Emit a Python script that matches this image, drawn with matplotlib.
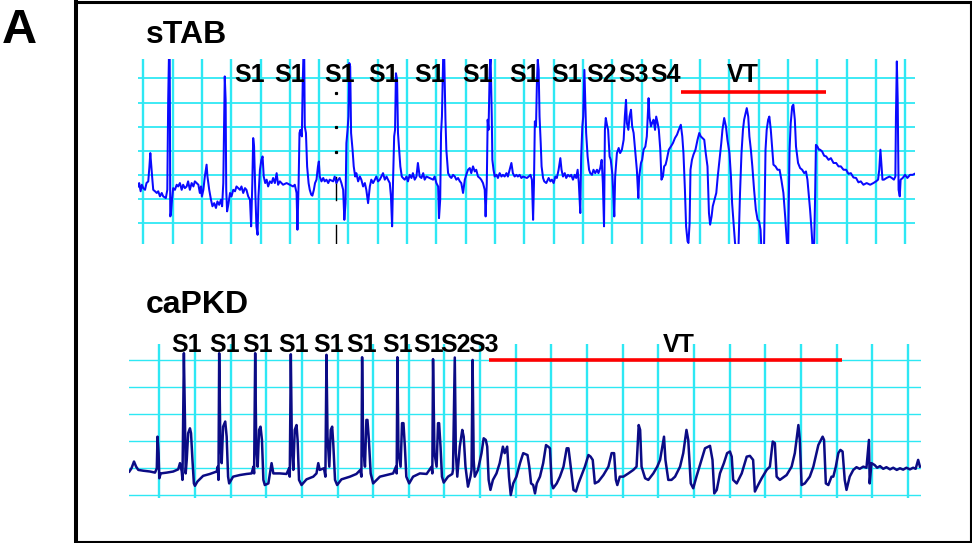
import matplotlib
matplotlib.use("Agg")
import matplotlib.pyplot as plt
from matplotlib.lines import Line2D

plt.rcParams["font.family"] = ["Liberation Sans", "DejaVu Sans"]

# ---------------- data (time in ms, amplitude in mV) ----------------
STAB_TRACE = [
    (-17, -0.47), (-14, -0.33), (-9, -0.67), (-5, -0.40), (0, -0.54), (6, -0.61), (11, -0.33), (17, -0.26),
    (21, 0.36), (24, 0.91), (27, 0.43), (31, -0.19), (34, -0.61), (40, -0.67), (46, -0.74), (51, -0.67),
    (57, -0.88), (63, -0.74), (68, -0.88), (77, -0.95), (82, -0.61), (85, 3.11), (88, 5.2), (90, 5.2),
    (91, 2.42), (92, -1.71), (94, -1.64), (98, -1.02), (102, -0.54), (108, -0.61), (114, -0.40), (119, -0.47),
    (125, -0.33), (131, -0.61), (136, -0.40), (142, -0.54), (148, -0.47), (153, -0.26), (159, -0.61), (165, -0.33),
    (171, -0.47), (176, -0.26), (182, -0.33), (188, -0.40), (193, -0.74), (197, -0.47), (200, -0.88), (205, -0.61),
    (210, -0.06), (216, 0.43), (219, -0.06), (225, -0.61), (231, -1.02), (236, -1.29), (242, -1.16), (248, -1.36),
    (253, -1.09), (259, -1.23), (265, -1.02), (269, -1.29), (273, -0.33), (276, 2.42), (278, 4.08), (281, 3.11),
    (283, -0.61), (286, -1.50), (291, -1.16), (296, -0.74), (301, -0.88), (307, -0.61), (313, -0.67), (318, -0.47),
    (324, -0.54), (330, -0.61), (335, -0.47), (341, -0.74), (347, -0.54), (352, -0.61), (358, -0.88), (364, -1.02),
    (368, -2.12), (372, -0.33), (375, 1.53), (378, 1.18), (382, -0.61), (386, -2.12), (390, -2.47), (393, -0.88),
    (398, 0.22), (403, 0.63), (407, 0.77), (411, -0.06), (416, -0.33), (421, -0.19), (426, -0.47), (432, -0.26),
    (438, -0.33), (443, -0.12), (449, -0.33), (455, 0.08), (460, -0.40), (466, -0.26), (477, -0.40), (489, -0.33),
    (500, -0.40), (511, -0.47), (517, -0.40), (523, -0.74), (526, -2.26), (530, -0.33), (533, 1.74), (536, 1.87),
    (541, 1.60), (544, 3.80), (547, 5.2), (549, 5.2), (551, 2.01), (555, 1.74), (559, 0.36), (564, -0.33),
    (568, -0.61), (573, -0.81), (577, -0.85), (582, -0.61), (586, -0.33), (591, -0.19), (596, 0.36), (599, 0.56),
    (602, -0.06), (608, -0.26), (614, -0.12), (619, -0.26), (625, -0.19), (631, -0.33), (636, -0.19), (648, -0.26),
    (653, -0.06), (659, -0.33), (665, -0.19), (670, -0.12), (676, -0.33), (682, -0.61), (686, -1.85), (690, -1.16),
    (693, 1.32), (697, 1.87), (700, 2.42), (703, 4.63), (706, 4.49), (709, 1.74), (714, 1.05), (718, 0.36),
    (723, -0.06), (727, 0.08), (733, -0.26), (739, -0.06), (744, -0.19), (750, -0.47), (756, -0.33), (761, -0.61),
    (767, -1.16), (773, -0.47), (778, -0.19), (784, -0.33), (790, -0.19), (795, -0.06), (801, -0.26), (807, -0.19),
    (818, 0.08), (824, -0.19), (830, -0.06), (835, -0.19), (841, -0.33), (845, -0.88), (849, -2.12), (852, -0.33),
    (856, 1.60), (859, 1.87), (862, 4.21), (866, 3.94), (869, 1.74), (873, 1.05), (877, 0.36), (882, -0.06),
    (886, -0.12), (892, -0.19), (898, -0.06), (903, -0.26), (909, 0.01), (915, -0.12), (920, 0.08), (926, -0.19),
    (932, -0.06), (937, 0.50), (943, -0.06), (949, -0.12), (955, 0.08), (960, -0.19), (966, -0.06), (977, -0.12),
    (989, -0.19), (994, -0.06), (1000, -0.33), (1006, -0.47), (1009, -1.78), (1013, -1.02), (1016, 1.74), (1019, 2.42),
    (1023, 4.77), (1025, 5.2), (1027, 4.77), (1031, 2.29), (1034, 1.05), (1040, 0.08), (1046, -0.06), (1051, -0.12),
    (1057, 0.01), (1063, -0.06), (1068, -0.19), (1074, -0.12), (1080, -0.26), (1085, -0.33), (1091, -0.74), (1097, -0.19),
    (1102, 0.01), (1108, 0.22), (1114, 0.29), (1119, 0.08), (1125, 0.36), (1131, 0.15), (1136, 0.22), (1142, -0.06),
    (1148, -0.12), (1153, -0.19), (1159, -0.33), (1165, -0.61), (1168, -1.71), (1172, -0.33), (1175, 2.29), (1178, 1.87),
    (1182, 4.35), (1185, 4.90), (1189, 2.42), (1191, 0.63), (1195, 0.22), (1199, -0.06), (1205, 0.01), (1210, -0.12),
    (1216, 0.08), (1222, -0.06), (1227, 0.01), (1233, -0.06), (1239, 0.08), (1244, -0.06), (1250, 0.22), (1256, 0.50),
    (1261, 0.08), (1267, -0.06), (1273, 0.01), (1278, -0.06), (1284, 0.01), (1290, -0.12), (1296, -0.06),
    (1309, -0.12), (1315, -0.06), (1321, 0.01), (1326, -0.19), (1330, -1.85), (1333, -0.33), (1336, 2.22), (1340, 2.01),
    (1343, 3.80), (1346, 4.77), (1349, 4.35), (1352, 2.42), (1356, 1.32), (1359, 0.36), (1364, -0.12), (1368, -0.26),
    (1375, -0.33), (1383, -0.12), (1389, -0.26), (1394, -0.19), (1400, -0.33), (1406, -0.06), (1411, -0.12), (1417, 0.22),
    (1423, 0.70), (1427, 0.22), (1432, -0.06), (1438, 0.08), (1443, -0.12), (1449, 0.01), (1455, -0.06), (1460, 0.01),
    (1466, -0.19), (1472, 0.01), (1477, -0.12), (1482, 0.22), (1486, -0.33), (1491, -1.57), (1494, 0.77), (1498, 2.01),
    (1501, 2.42), (1505, 4.35), (1508, 3.11), (1511, 1.74), (1516, 0.77), (1521, 0.22), (1525, 0.08), (1531, 0.01),
    (1536, 0.22), (1542, 0.08), (1548, 0.22), (1553, 0.08), (1559, 0.29), (1564, 0.63), (1568, -0.33), (1572, -2.12),
    (1575, 1.87), (1578, 2.36), (1582, 2.08), (1586, 1.87), (1591, 0.77), (1595, 0.63), (1600, 0.08), (1603, -0.61),
    (1607, -1.71), (1610, -0.06), (1616, 0.91), (1622, 1.12), (1627, 0.91), (1633, 1.05), (1639, 1.46), (1643, 2.42),
    (1647, 3.11), (1650, 2.15), (1655, 1.87), (1659, 2.42), (1664, 2.70), (1668, 2.01), (1673, 1.74), (1678, 1.05),
    (1684, 0.22), (1689, -0.95), (1692, -0.06), (1698, 0.50), (1702, 0.63), (1707, 1.05), (1713, 1.18), (1718, 1.60),
    (1724, 3.18), (1727, 2.42), (1732, 2.01), (1736, 2.15), (1741, 2.29), (1746, 1.87), (1750, 2.42), (1755, 2.15),
    (1759, 1.87), (1764, 1.05), (1768, -0.19), (1773, -0.06), (1777, 0.36), (1782, 0.43), (1786, 0.63), (1793, 1.05),
    (1800, 1.18), (1807, 1.32), (1814, 1.53), (1821, 1.67), (1827, 1.87), (1834, 2.08), (1839, 1.60), (1843, 0.91),
    (1848, -0.61), (1852, -2.12), (1857, -2.74), (1860, -2.81), (1864, -1.98), (1867, 0.22), (1872, 0.63), (1877, 0.84),
    (1884, 1.05), (1891, 1.46), (1897, 1.74), (1902, 1.60), (1908, 1.53), (1914, 1.46), (1919, 0.91), (1925, 0.36),
    (1930, -1.57), (1934, -2.05), (1939, -1.71), (1943, -1.29), (1949, -1.02), (1955, -0.74), (1960, -0.06), (1966, 0.63),
    (1972, 1.32), (1976, 1.87), (1982, 2.36), (1988, 2.01), (1993, 1.46), (2000, 0.91), (2005, -0.06), (2009, -1.16),
    (2014, -1.98), (2019, -2.81), (2025, -3.09), (2031, -2.88), (2036, -0.74), (2041, 0.91), (2046, 1.87), (2050, 2.29),
    (2055, 2.56), (2059, 2.77), (2064, 2.42), (2068, 1.60), (2073, 1.05), (2078, 0.36), (2084, -0.61), (2090, -1.43),
    (2096, -1.85), (2101, -1.91), (2106, -2.26), (2109, -3.09), (2114, -3.09), (2118, -2.95), (2123, 1.05), (2127, 1.87),
    (2132, 2.29), (2136, 2.42), (2141, 1.87), (2146, 1.05), (2150, 0.43), (2157, 0.36), (2164, 0.22), (2171, 0.22),
    (2177, -0.19), (2184, -0.74), (2190, -1.71), (2196, -2.81), (2200, -3.09), (2205, 1.05), (2209, 2.15), (2214, 2.84),
    (2218, 2.91), (2223, 2.29), (2227, 1.18), (2234, 0.50), (2241, 0.29), (2248, 0.22), (2255, 0.08), (2261, 0.15),
    (2266, -0.19), (2271, -0.88), (2275, -1.43), (2280, -2.26), (2284, -3.09), (2289, -2.81), (2292, -1.02), (2295, 1.25),
    (2300, 1.18), (2305, 1.05), (2309, 1.05), (2316, 0.98), (2323, 0.80), (2330, 0.77), (2338, 0.63), (2346, 0.70),
    (2355, 0.50), (2364, 0.50), (2372, 0.36), (2380, 0.36), (2389, 0.22), (2398, 0.22), (2406, 0.05), (2414, 0.08),
    (2423, -0.10), (2432, -0.12), (2440, -0.30), (2448, -0.26), (2457, -0.40), (2468, -0.33), (2480, -0.40), (2491, -0.33),
    (2500, -0.26), (2507, -0.19), (2511, 0.22), (2515, 1.05), (2518, 0.50), (2522, -0.19), (2527, -0.19), (2536, -0.12),
    (2546, -0.06), (2554, -0.12), (2561, -0.19), (2566, -0.06), (2568, 2.42), (2571, 4.70), (2574, 3.11), (2577, -0.61),
    (2581, -0.88), (2584, -0.19), (2591, -0.12), (2599, 0.01), (2607, -0.12), (2616, 0.01), (2625, 0.01), (2633, 0.06),
]

CAPKD_TRACE = [
    (-84, -0.12), (-78, 0.00), (-71, 0.25), (-65, 0.06), (-59, -0.06), (-45, -0.09), (-26, -0.12), (-12, -0.16),
    (-7, 0.00), (-5, 1.17), (-2, 0.56), (0, -0.37), (4, -0.19), (21, -0.16), (39, -0.12), (53, -0.04),
    (58, 0.19), (63, -0.12), (65, -0.43), (67, 1.79), (69, 4.26), (72, 1.79), (74, -0.19), (77, 0.31),
    (81, 1.30), (86, 1.48), (89, 1.30), (93, 0.31), (97, -0.56), (100, -0.65), (107, -0.49), (123, -0.28),
    (142, -0.21), (161, -0.12), (164, 0.06), (166, -0.43), (168, 4.26), (171, 1.17), (175, 0.19), (179, 1.54),
    (185, 1.73), (189, 1.17), (193, -0.31), (196, -0.56), (207, -0.31), (226, -0.25), (245, -0.21), (259, -0.19),
    (264, 0.06), (266, -0.19), (269, 4.26), (272, 0.80), (276, 0.06), (280, 1.42), (284, 1.54), (288, 1.05),
    (292, -0.43), (296, -0.62), (306, -0.56), (315, 0.19), (320, -0.19), (338, -0.19), (357, -0.21), (364, 0.00),
    (366, -0.31), (369, 4.22), (372, 0.80), (376, -0.06), (380, 1.42), (385, 1.60), (388, 1.05), (392, -0.43),
    (399, -0.62), (413, -0.41), (432, -0.31), (441, -0.19), (446, 0.19), (450, -0.06), (462, 0.00), (466, -0.31),
    (469, 4.20), (472, 1.17), (477, 0.06), (481, 1.42), (485, 1.54), (488, 0.93), (493, -0.43), (499, -0.62),
    (511, -0.41), (535, -0.31), (553, -0.21), (564, -0.06), (567, -0.31), (569, 4.11), (572, 0.80), (577, 0.06),
    (581, 1.79), (584, 1.79), (588, 1.05), (593, -0.19), (600, -0.56), (619, -0.31), (637, -0.25), (656, -0.19),
    (664, 0.06), (666, -0.19), (668, 4.11), (671, 0.56), (677, 0.06), (681, 1.67), (685, 1.67), (689, 0.80),
    (693, -0.31), (701, -0.56), (712, -0.31), (731, -0.19), (750, -0.21), (764, 0.06), (766, -0.19), (768, 4.04),
    (772, 0.56), (778, 0.06), (782, 1.67), (785, 1.67), (789, 0.80), (793, -0.31), (798, -0.53), (810, -0.31),
    (822, -0.21), (824, -0.06), (829, 4.10), (832, 0.56), (836, -0.31), (843, 0.80), (850, 1.42), (854, 1.17),
    (859, 0.06), (866, -0.68), (873, -0.31), (876, -0.06), (879, 4.01), (882, 0.31), (885, -0.31), (894, -0.06),
    (904, 0.56), (910, 1.11), (916, 1.05), (920, 0.80), (924, -0.43), (929, -0.80), (936, -0.43), (946, -0.19),
    (955, 0.19), (964, 0.80), (969, 0.56), (976, 0.80), (981, -0.31), (986, -0.99), (993, -0.56), (1002, -0.31),
    (1012, 0.19), (1021, 0.56), (1033, 0.49), (1038, 0.06), (1043, -0.56), (1049, -0.62), (1054, -0.93), (1059, -0.56),
    (1068, -0.31), (1077, 0.19), (1085, 0.86), (1091, 0.80), (1096, 0.74), (1101, -0.56), (1105, -0.74), (1115, -0.56),
    (1124, -0.31), (1134, 0.06), (1143, 0.74), (1148, 0.74), (1152, 0.31), (1162, -0.80), (1169, -0.86), (1176, -0.56),
    (1185, -0.25), (1194, 0.06), (1204, 0.49), (1210, 0.43), (1216, 0.31), (1222, -0.56), (1232, -0.49), (1246, -0.25),
    (1260, 0.06), (1269, 0.56), (1276, 0.56), (1281, -0.43), (1285, -0.62), (1292, -0.31), (1302, -0.31), (1316, -0.19),
    (1330, -0.06), (1339, 0.06), (1345, 1.60), (1349, 1.42), (1353, 0.06), (1363, -0.37), (1372, -0.43), (1386, -0.19),
    (1397, 0.06), (1405, 0.31), (1416, 1.17), (1420, 0.31), (1428, -0.43), (1437, -0.43), (1447, -0.31), (1461, 0.06),
    (1470, 0.56), (1479, 1.42), (1484, 1.05), (1491, -0.56), (1498, -0.74), (1507, -0.31), (1521, 0.31), (1531, 0.74),
    (1545, 0.83), (1552, 0.31), (1557, -0.93), (1564, -0.80), (1573, -0.19), (1584, 0.19), (1593, 0.56), (1601, 0.62),
    (1606, 0.43), (1610, -0.43), (1620, -0.56), (1634, -0.19), (1648, 0.43), (1657, 0.46), (1666, 0.31), (1671, -0.86),
    (1680, -0.62), (1690, -0.37), (1704, -0.06), (1713, 0.06), (1721, 0.99), (1727, 0.93), (1732, -0.31), (1741, -0.43),
    (1760, -0.25), (1774, 0.06), (1783, 0.56), (1793, 1.60), (1797, 1.05), (1802, -0.62), (1811, -0.56), (1825, -0.31),
    (1835, 0.06), (1849, 0.86), (1861, 1.17), (1865, 1.05), (1870, -0.56), (1877, -0.62), (1886, -0.31), (1891, -0.31),
    (1898, 0.06), (1905, 0.56), (1911, 0.68), (1917, 0.62), (1923, -0.43), (1928, -0.80), (1937, -0.31), (1947, -0.06),
    (1956, 0.04), (1965, -0.02), (1975, 0.06), (1984, 0.02), (1991, 1.05), (1993, -0.56), (1998, 0.19), (2007, 0.12),
    (2014, 0.02), (2022, 0.08), (2031, -0.02), (2040, 0.04), (2050, -0.04), (2059, 0.02), (2069, -0.06), (2078, 0.00),
    (2087, -0.05), (2096, 0.02), (2106, -0.04), (2115, 0.02), (2122, -0.02), (2129, 0.31), (2134, 0.06),
]

STAB_STIM_LABELS = ["S1", "S1", "S1", "S1", "S1", "S1", "S1", "S1", "S2", "S3", "S4"]
STAB_STIM_MS = [364, 498, 671, 821, 978, 1140, 1302, 1445, 1564, 1673, 1783]
STAB_VT_MS = [1835, 2329]
STAB_MARKER_MS = 656

CAPKD_STIM_LABELS = ["S1", "S1", "S1", "S1", "S1", "S1", "S1", "S1", "S2", "S3"]
CAPKD_STIM_MS = [77, 184, 276, 377, 475, 569, 670, 755, 832, 911]
CAPKD_VT_MS = [925, 1914]

PANEL_TITLES = ["sTAB", "caPKD"]
FIG_LABEL = "A"

# ---------------- layout ----------------
W, H = 972, 543
fig = plt.figure(figsize=(W / 100, H / 100), dpi=100)
fig.patch.set_facecolor("white")


def px_axes(left, top, right, bottom):
    return fig.add_axes([left / W, 1 - bottom / H, (right - left) / W, (bottom - top) / H])


GRID = "#2ee8f4"
BOLD = dict(fontweight="bold", color="black")


def setup(ax, xlim, ylim, xgrid_max, yrange, lw_v, lw_h):
    ax.set_xlim(*xlim)
    ax.set_ylim(*ylim)
    ax.set_axis_off()
    for t in range(0, xgrid_max + 1, 100):
        ax.axvline(t, color=GRID, lw=lw_v, zorder=1)
    for v in yrange:
        ax.axhline(v, color=GRID, lw=lw_h, zorder=1)


# top panel: sTAB
ax1 = px_axes(138, 59, 915, 244)
setup(ax1, (-18, 2633), (-2.85, 4.80), 2600, range(-2, 5), 1.7, 1.3)
t1, v1 = zip(*STAB_TRACE)
ax1.plot(t1, v1, color="#0a0aff", lw=1.45, zorder=3)
ax1.plot([STAB_MARKER_MS] * 2, [-0.08, -1.03], color="black", lw=1.0, zorder=2)
ax1.plot([STAB_MARKER_MS] * 2, [-2.06, -2.85], color="black", lw=1.0, zorder=2)
ax1.plot([STAB_MARKER_MS] * 3, [3.39, 1.99, 0.95], ls="none", marker="s", ms=1.3,
         color="black", zorder=2)
for lab, t in zip(STAB_STIM_LABELS, STAB_STIM_MS):
    ax1.text(t, 3.86, lab, ha="center", va="baseline", fontsize=18, clip_on=False, zorder=5, **BOLD)
ax1.plot(STAB_VT_MS, [3.45, 3.45], color="#ff0000", lw=2.6, solid_capstyle="butt", zorder=4)
ax1.text(sum(STAB_VT_MS) / 2 - 37, 3.86, "VT", ha="center", va="baseline", fontsize=18,
         clip_on=False, zorder=5, **BOLD)

# bottom panel: caPKD
ax2 = px_axes(129, 344, 921, 498)
setup(ax2, (-85, 2137), (-1.10, 4.60), 2100, range(-1, 5), 1.7, 1.0)
t2, v2 = zip(*CAPKD_TRACE)
ax2.plot(t2, v2, color="#0b0b85", lw=1.8, zorder=3)
for lab, t in zip(CAPKD_STIM_LABELS, CAPKD_STIM_MS):
    ax2.text(t, 4.31, lab, ha="center", va="baseline", fontsize=18, clip_on=False, zorder=5, **BOLD)
ax2.plot(CAPKD_VT_MS, [3.99, 3.99], color="#ff0000", lw=2.6, solid_capstyle="butt", zorder=4)
ax2.text(1456, 4.31, "VT", ha="center", va="baseline", fontsize=18, clip_on=False, zorder=5, **BOLD)

# titles and panel letter
fig.text(146 / W, 1 - 43 / H, PANEL_TITLES[0], ha="left", va="baseline", fontsize=23, **BOLD)
fig.text(146 / W, 1 - 313 / H, PANEL_TITLES[1], ha="left", va="baseline", fontsize=23, **BOLD)
fig.text(19 / W, 1 - 43 / H, FIG_LABEL, ha="center", va="baseline", fontsize=35, **BOLD)

# frame around the panel
def fig_line(x0, y0, x1, y1, lw):
    fig.add_artist(Line2D([x0 / W, x1 / W], [1 - y0 / H, 1 - y1 / H], color="black", lw=lw,
                          transform=fig.transFigure, solid_capstyle="projecting"))

fig_line(76, 1.5, 971, 1.5, 2.2)
fig_line(76, 1.5, 76, 542, 2.9)
fig_line(971, 1.5, 971, 542, 1.5)
fig_line(76, 542, 971, 542, 1.5)

fig.savefig("out.png", dpi=100, facecolor="white")
